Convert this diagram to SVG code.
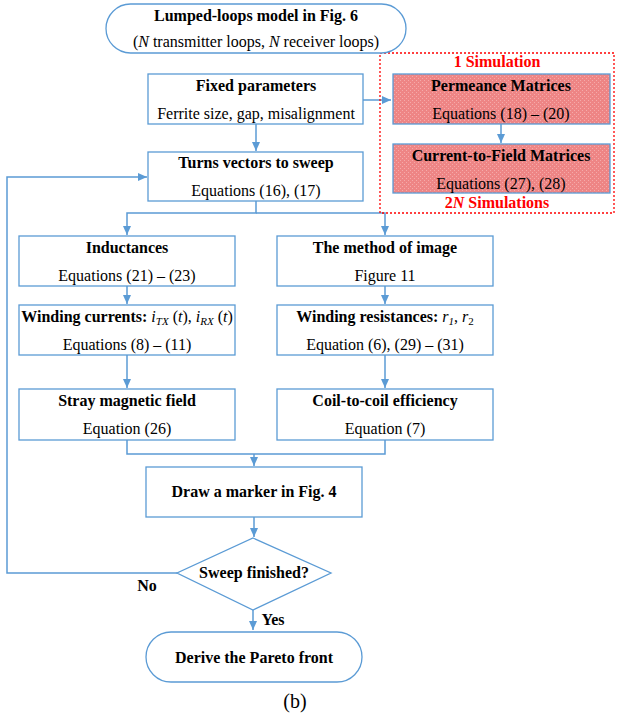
<svg xmlns="http://www.w3.org/2000/svg" width="617" height="715" viewBox="0 0 617 715">
<style>
text{font-family:"Liberation Serif","Times New Roman",serif;font-size:16px;fill:#000;text-anchor:middle}
.b{font-weight:bold}
.r{fill:#ff0000;font-weight:bold}
.box{fill:#fff;stroke:#5b9bd5;stroke-width:1.3}
.pink{fill:url(#hatch);stroke:#5b9bd5;stroke-width:1.3}
.ln{fill:none;stroke:#5b9bd5;stroke-width:1.5}
.sub{font-size:11px}
.cap{font-size:20px}
</style>
<defs>
<marker id="ah" markerWidth="10" markerHeight="10" refX="9" refY="5" orient="auto" markerUnits="userSpaceOnUse">
<path d="M0,1 L9,5 L0,9 Z" fill="#5b9bd5"/>
</marker>
<pattern id="hatch" width="4" height="4" patternUnits="userSpaceOnUse">
<rect width="4" height="4" fill="#ee8585"/>
<rect x="0" y="0" width="1" height="1" fill="#f5aaaa"/>
<rect x="2" y="2" width="1" height="1" fill="#f5aaaa"/>
</pattern>
</defs>

<g id="connectors">
<path class="ln" d="M363,100 H391" marker-end="url(#ah)"/>
<path class="ln" d="M256,124 V151" marker-end="url(#ah)"/>
<path class="ln" d="M501,124 V143" marker-end="url(#ah)"/>
<path class="ln" d="M256,201 V213 H127 V235" marker-end="url(#ah)"/>
<path class="ln" d="M256,213 H385 V235" marker-end="url(#ah)"/>
<path class="ln" d="M127,286 V304" marker-end="url(#ah)"/>
<path class="ln" d="M385,286 V304" marker-end="url(#ah)"/>
<path class="ln" d="M127,355 V388" marker-end="url(#ah)"/>
<path class="ln" d="M385,355 V388" marker-end="url(#ah)"/>
<path class="ln" d="M127,440 V454 H385 V440"/>
<path class="ln" d="M254,454 V466" marker-end="url(#ah)"/>
<path class="ln" d="M254,517 V537" marker-end="url(#ah)"/>
<path class="ln" d="M177,573 H7 V177 H147" marker-end="url(#ah)"/>
<path class="ln" d="M253,610 V630" marker-end="url(#ah)"/>
</g>

<g id="sim-region">
<rect x="380" y="53" width="234" height="160" fill="none" stroke="#ff0000" stroke-width="1.3" stroke-dasharray="2,2"/>
<text class="r" x="497" y="67">1 Simulation</text>
<text class="r" x="497" y="208">2<tspan font-style="italic">N</tspan> Simulations</text>
</g>

<g id="start">
<rect x="106" y="4" width="300" height="49" rx="24.5" class="box"/>
<text class="b" x="256" y="21">Lumped-loops model in Fig. 6</text>
<text x="256" y="47">(<tspan font-style="italic">N</tspan> transmitter loops, <tspan font-style="italic">N</tspan> receiver loops)</text>
</g>

<g id="fixed">
<rect x="148" y="74" width="215" height="50" class="box"/>
<text class="b" x="256" y="91">Fixed parameters</text>
<text x="256" y="119">Ferrite size, gap, misalignment</text>
</g>

<g id="permeance">
<rect x="393" y="74" width="217" height="50" class="pink"/>
<text class="b" x="501" y="91">Permeance Matrices</text>
<text x="501" y="119">Equations (18) – (20)</text>
</g>

<g id="current-field">
<rect x="393" y="144" width="217" height="49" class="pink"/>
<text class="b" x="501" y="161">Current-to-Field Matrices</text>
<text x="501" y="189">Equations (27), (28)</text>
</g>

<g id="turns">
<rect x="148" y="152" width="215" height="49" class="box"/>
<text class="b" x="256" y="168">Turns vectors to sweep</text>
<text x="256" y="196">Equations (16), (17)</text>
</g>

<g id="inductances">
<rect x="19" y="236" width="216" height="50" class="box"/>
<text class="b" x="127" y="253">Inductances</text>
<text x="127" y="281">Equations (21) – (23)</text>
</g>

<g id="image">
<rect x="277" y="236" width="216" height="50" class="box"/>
<text class="b" x="385" y="253">The method of image</text>
<text x="385" y="281">Figure 11</text>
</g>

<g id="currents">
<rect x="19" y="305" width="216" height="50" class="box"/>
<text x="127" y="322"><tspan class="b">Winding currents: </tspan><tspan font-style="italic">i</tspan><tspan class="sub" font-style="italic" dy="3">TX</tspan><tspan dy="-3"> (</tspan><tspan font-style="italic">t</tspan>), <tspan font-style="italic">i</tspan><tspan class="sub" font-style="italic" dy="3">RX</tspan><tspan dy="-3"> (</tspan><tspan font-style="italic">t</tspan>)</text>
<text x="127" y="350">Equations (8) – (11)</text>
</g>

<g id="resistances">
<rect x="277" y="305" width="216" height="50" class="box"/>
<text x="385" y="322"><tspan class="b">Winding resistances: </tspan><tspan font-style="italic">r</tspan><tspan class="sub" font-style="italic" dy="3">1</tspan><tspan dy="-3">, </tspan><tspan font-style="italic">r</tspan><tspan class="sub" dy="3">2</tspan></text>
<text x="385" y="350">Equation (6), (29) – (31)</text>
</g>

<g id="stray">
<rect x="19" y="389" width="216" height="51" class="box"/>
<text class="b" x="127" y="406">Stray magnetic field</text>
<text x="127" y="434">Equation (26)</text>
</g>

<g id="efficiency">
<rect x="277" y="389" width="216" height="51" class="box"/>
<text class="b" x="385" y="406">Coil-to-coil efficiency</text>
<text x="385" y="434">Equation (7)</text>
</g>

<g id="marker">
<rect x="146" y="467" width="216" height="50" class="box"/>
<text class="b" x="254" y="497">Draw a marker in Fig. 4</text>
</g>

<g id="decision">
<polygon points="253,538 331,573 253,610 177,573" class="box"/>
<text class="b" x="254" y="578">Sweep finished?</text>
</g>

<g id="labels">
<text class="b" x="147" y="591">No</text>
<text class="b" x="273" y="625">Yes</text>
</g>

<g id="end">
<rect x="146" y="632" width="216" height="50" rx="25" class="box"/>
<text class="b" x="254" y="663">Derive the Pareto front</text>
</g>

<text class="cap" x="295" y="708">(b)</text>
</svg>
